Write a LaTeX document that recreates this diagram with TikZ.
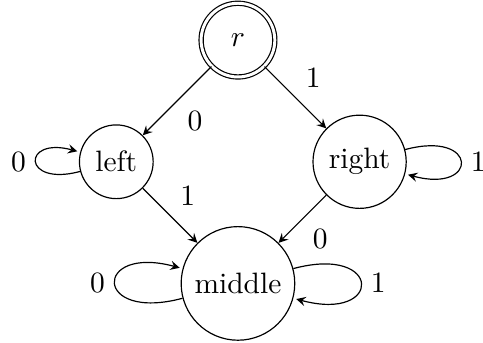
\documentclass[tikz,border=0pt]{standalone}
\usepackage{amssymb}
\usepackage{amsmath}
\usepackage{tikz}
\usetikzlibrary{positioning}

\begin{document}
\begin{tikzpicture}[>=stealth, node distance=1.45cm and 1.45cm, on grid, auto,
	state/.style={circle,draw,minimum size=25pt},
	final/.style={double,double distance=1pt}]
	\useasboundingbox (-80.7pt,-102.7pt) rectangle (83.1pt,13.6pt);
	\node[state,final] (r) {$r$};
	\node[state,below left=of r] (lft) {left};
	\node[state,below right=of r] (rgt) {right};
	\node[state,below=2.9cm of r] (mid) {middle};
	\path[->] (r) edge node {$0$} (lft)
			edge node {$1$} (rgt)
		(lft) edge[loop left] node {$0$} ()
			edge node {$1$} (mid)
		(rgt) edge[loop right] node {$1$} ()
			edge node {$0$} (mid)
		(mid) edge[loop left] node {$0$} ()
			edge[loop right] node {$1$} ();
\end{tikzpicture}
\end{document}
